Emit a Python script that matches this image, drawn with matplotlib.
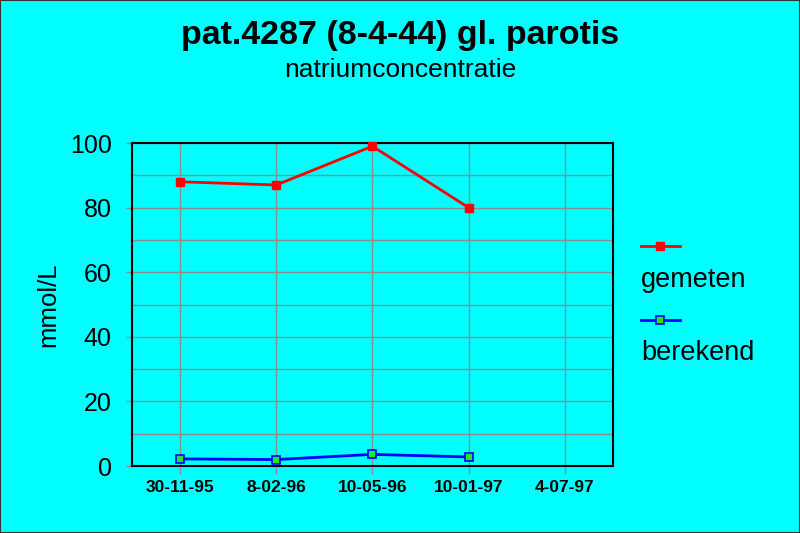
import matplotlib.pyplot as plt
from matplotlib.lines import Line2D
from matplotlib.patches import Rectangle

plt.rcParams['font.family'] = ['Liberation Sans', 'DejaVu Sans']

dates = ["30-11-95", "8-02-96", "10-05-96", "10-01-97", "4-07-97"]
gemeten = [88, 87, 99, 80]
berekend = [2.2, 2.0, 3.6, 2.8]

cyan = "#00FFFF"
grey = "#8C8C8C"
green = "#22E622"

fig = plt.figure(figsize=(8, 5.33), dpi=100, facecolor=cyan)
ax = fig.add_axes([0.165, 0.1257, 0.601, 0.606], facecolor=cyan)

x = list(range(len(dates)))
ax.plot(x[:len(gemeten)], gemeten, color="red", lw=2, marker="s", ms=6,
        mfc="red", mec="red", zorder=3, clip_on=False)
ax.plot(x[:len(berekend)], berekend, color="blue", lw=2, marker="s", ms=6,
        mfc=green, mec="blue", mew=1.2, zorder=3, clip_on=False)

ax.set_xlim(-0.5, len(dates) - 0.5)
ax.set_ylim(0, 100)
ax.set_xticks(x)
ax.set_xticklabels(dates, fontsize=12.5, fontweight="bold")
ax.set_yticks(range(0, 101, 20))
ax.set_yticks(range(10, 100, 20), minor=True)
ax.tick_params(axis="y", which="major", labelsize=18, length=4.5, color=grey, width=1, pad=10)
ax.tick_params(axis="y", which="minor", length=1.5, color=grey, width=1)
ax.tick_params(axis="x", length=6, color=grey, width=1, pad=4)
ax.grid(True, which="both", color=grey, lw=1, zorder=1)
ax.set_axisbelow(True)
for s in ax.spines.values():
    s.set_color("black")
    s.set_linewidth(1.5)

ax.set_ylabel("mmol/L", fontsize=18.5, labelpad=7)

fig.text(0.5, 0.934, "pat.4287 (8-4-44) gl. parotis", ha="center", va="center",
         fontsize=24.5, fontweight="bold")
fig.text(0.5, 0.868, "natriumconcentratie", ha="center", va="center", fontsize=19)

# legend, label below the line sample
fig.add_artist(Line2D([0.801, 0.8255, 0.85], [1 - 246 / 533] * 3, color="red", lw=2,
                      marker="s", markevery=[1], ms=6, mfc="red", mec="red",
                      transform=fig.transFigure))
fig.add_artist(Line2D([0.801, 0.8255, 0.85], [1 - 320 / 533] * 3, color="blue", lw=2,
                      marker="s", markevery=[1], ms=6, mfc=green, mec="blue",
                      mew=1.2, transform=fig.transFigure))
fig.text(0.801, 1 - 280 / 533, "gemeten", ha="left", va="center", fontsize=19.5)
fig.text(0.801, 1 - 353 / 533, "berekend", ha="left", va="center", fontsize=19.5)

fig.add_artist(Rectangle((0, 0), 1, 1, transform=fig.transFigure, fill=False,
                         edgecolor="#333333", lw=1.5))

fig.savefig("out.png", dpi=100, facecolor=cyan)
